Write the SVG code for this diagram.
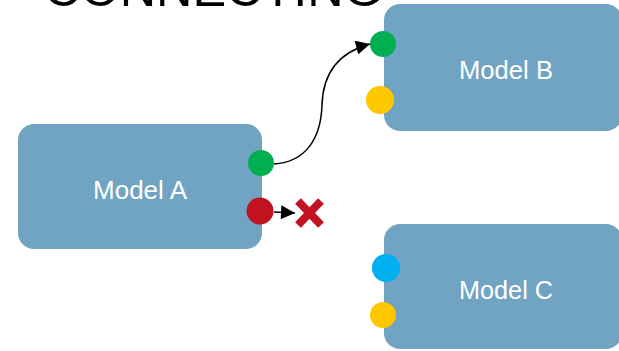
<svg xmlns="http://www.w3.org/2000/svg" width="619" height="351" viewBox="0 0 619 351">
  <defs>
    <style>
      .box { fill: #71A4C3; }
      .label { font-family: "Liberation Sans", Arial, sans-serif; font-size: 25px; fill: #ffffff; text-anchor: middle; dominant-baseline: central; }
      .title { font-family: "Liberation Sans", Arial, sans-serif; font-size: 50px; fill: #000000; }
      .wire { fill: none; stroke: #000000; stroke-width: 1.5; }
      .green { fill: #00B050; }
      .red { fill: #C0121F; }
      .yellow { fill: #FFC700; }
      .blue { fill: #00B0F0; }
    </style>
    <marker id="arrowBig" viewBox="0 0 10 10" refX="10" refY="5" markerWidth="15" markerHeight="14" markerUnits="userSpaceOnUse" orient="auto">
      <path d="M0,0 L10,5 L0,10 z" fill="#000000"/>
    </marker>
  </defs>

  <!-- heading, clipped by the top edge -->
  <text class="title" x="44" y="6" textLength="339" lengthAdjust="spacingAndGlyphs">CONNECTING</text>

  <g id="model-a">
    <rect class="box" x="18" y="124" width="244" height="125" rx="16"/>
    <text class="label" x="140" y="190" textLength="94" lengthAdjust="spacingAndGlyphs">Model A</text>
    <circle class="green" cx="261" cy="163" r="13"/>
    <circle class="red" cx="260" cy="211" r="13.5"/>
  </g>

  <g id="model-b">
    <rect class="box" x="384" y="4" width="238" height="127" rx="16"/>
    <text class="label" x="506" y="70" textLength="94" lengthAdjust="spacingAndGlyphs">Model B</text>
    <circle class="green" cx="383" cy="44" r="13"/>
    <circle class="yellow" cx="380" cy="100" r="14"/>
  </g>

  <g id="model-c">
    <rect class="box" x="384" y="224" width="238" height="125" rx="16"/>
    <text class="label" x="506" y="290" textLength="94" lengthAdjust="spacingAndGlyphs">Model C</text>
    <circle class="blue" cx="386" cy="268" r="14"/>
    <circle class="yellow" cx="383" cy="315" r="13"/>
  </g>

  <g id="connectors">
    <path class="wire" d="M274,164 C306,162 321,138 322,105 C323,72 340,52 370,44" marker-end="url(#arrowBig)"/>
    <path class="wire" d="M274,212 L295,213" marker-end="url(#arrowBig)"/>
  </g>

  <g id="rejected">
    <path d="M298,201 L321,225 M321,201 L298,225" stroke="#C0121F" stroke-width="8" fill="none"/>
  </g>
</svg>
